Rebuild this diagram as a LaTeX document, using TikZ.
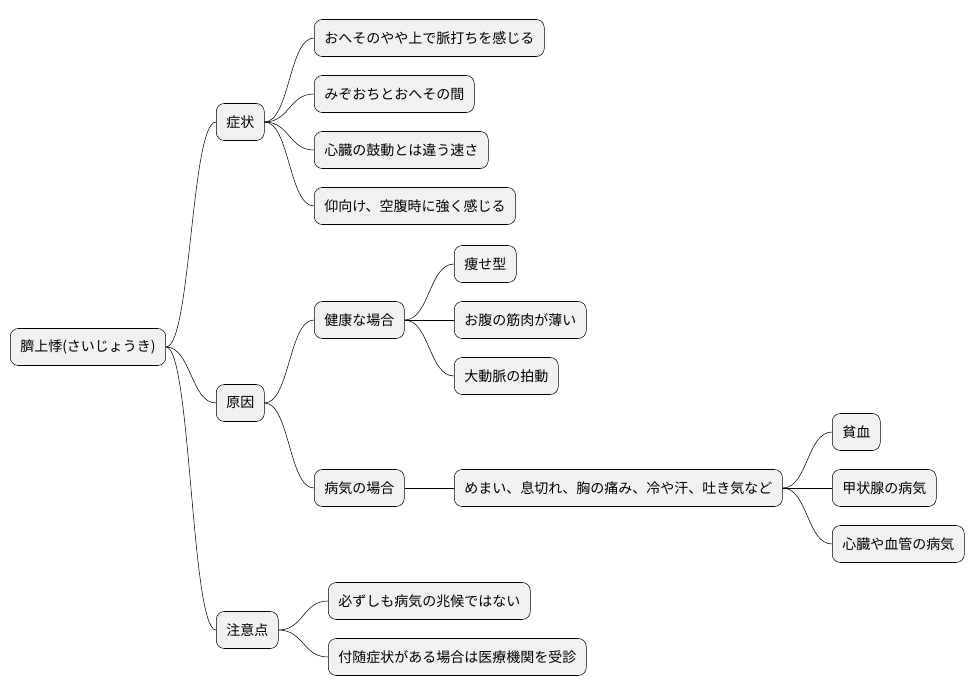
\documentclass[tikz,border=0pt]{standalone}
\usepackage{fontspec}
\setmainfont{Noto Sans CJK JP}
\begin{document}
\begin{tikzpicture}[x=0.75pt,y=-0.75pt]
\fontsize{10.5}{12}\selectfont
\begin{scope}[thin,
              box/.style={rectangle,draw,rounded corners=6pt,fill={rgb,255:red,241;green,241;blue,241},
                          anchor=west,minimum height=27.75pt,inner xsep=7.5pt},
              link/.style={draw}]
    \useasboundingbox (0,0) rectangle (975,696);
    \node [box] (root) at (10,347) {臍上悸(さいじょうき)};
    \node [box] (sym) at (216,122) {症状};
    \node [box] (cau) at (216,403) {原因};
    \node [box] (att) at (216,630) {注意点};
    \node [box] (s1) at (314,38) {おへそのやや上で脈打ちを感じる};
    \node [box] (s2) at (314,94) {みぞおちとおへその間};
    \node [box] (s3) at (314,150) {心臓の鼓動とは違う速さ};
    \node [box] (s4) at (314,206) {仰向け、空腹時に強く感じる};
    \node [box] (hl) at (314,320) {健康な場合};
    \node [box] (h1) at (454,264) {痩せ型};
    \node [box] (h2) at (454,320) {お腹の筋肉が薄い};
    \node [box] (h3) at (454,376) {大動脈の拍動};
    \node [box] (il) at (314,488) {病気の場合};
    \node [box] (sy) at (454,488) {めまい、息切れ、胸の痛み、冷や汗、吐き気など};
    \node [box] (i1) at (832,432) {貧血};
    \node [box] (i2) at (832,488) {甲状腺の病気};
    \node [box] (i3) at (832,544) {心臓や血管の病気};
    \node [box] (a1) at (328,601) {必ずしも病気の兆候ではない};
    \node [box] (a2) at (328,657) {付随症状がある場合は医療機関を受診};
    \foreach \p/\c in {root/sym,root/cau,root/att,sym/s1,sym/s2,sym/s3,sym/s4,
                       cau/hl,cau/il,hl/h1,hl/h2,hl/h3,il/sy,sy/i1,sy/i2,sy/i3,att/a1,att/a2}
        \path [link] (\p.east) .. controls +(25,0) and +(-25,0) .. (\c.west);
\end{scope}
\end{tikzpicture}
\end{document}
